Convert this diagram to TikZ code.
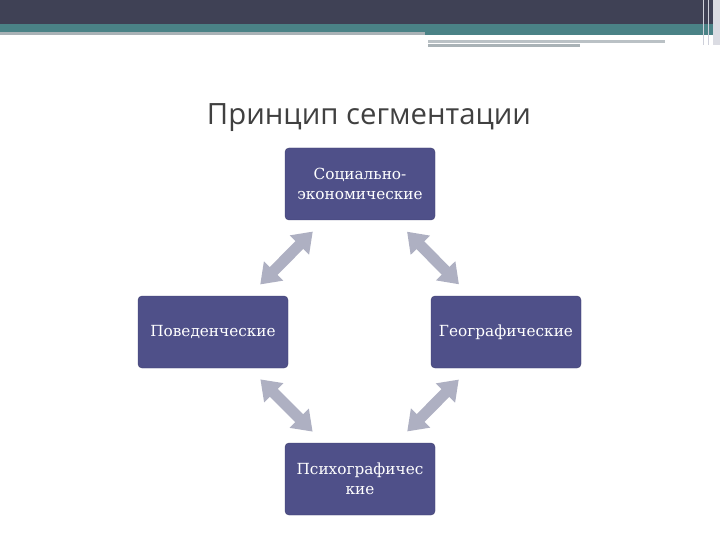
\documentclass[tikz,border=0pt]{standalone}
\usepackage{fontspec}
\setmainfont{DejaVu Serif}
\newfontfamily\titlefont{Open Sans}
\usetikzlibrary{arrows.meta}
\definecolor{Slate}{HTML}{3F4155}
\definecolor{Sea}{HTML}{4A8286}
\definecolor{Haze}{HTML}{A9B2B6}
\definecolor{Plum}{HTML}{4F5089}
\definecolor{PlumEdge}{HTML}{3E3F6E}
\definecolor{Mist}{HTML}{AEB0C2}
\definecolor{Ink}{HTML}{404040}

\begin{document}
\begin{tikzpicture}[x=1pt,y=-1pt,
    seg/.style={draw=PlumEdge,fill=Plum,rounded corners=4pt,minimum width=150pt,inner sep=2pt,
      minimum height=72pt,text width=145pt,align=center,text=white,font=\fontsize{15.3}{20}\selectfont},
    link/.style={Mist,line width=11pt,{Triangle[length=19pt,width=26pt]}-{Triangle[length=19pt,width=26pt]},
      shorten <=67pt,shorten >=67pt}]
    \useasboundingbox (0,0) rectangle (720,540);
    % header bands
    \fill[Slate] (0,0) rectangle (720,24);
    \fill[Sea] (0,24) rectangle (720,32);
    \fill[Haze] (0,32) rectangle (425,35);
    \fill[Sea] (425,32) rectangle (720,35);
    \fill[Haze!80] (428,40) rectangle (665,43);
    \fill[Haze] (428,44) rectangle (580,47);
    \fill[Mist!45] (713,0) rectangle (720,45);
    \draw[Mist!60,line width=1pt] (703,0)--(703,45) (708,0)--(708,45);
    \node[font=\titlefont\fontsize{29.3}{36}\selectfont,text=Ink] (title) at (369,118) {Принцип сегментации};
    \node[seg] (soc) at (360,184) {Социально-\\экономические};
    \node[seg] (beh) at (213,332) {Поведенческие};
    \node[seg] (geo) at (506,332) {Географические};
    \node[seg] (psy) at (360,479) {Психографичес\\кие};
    \foreach \u/\v in {soc/beh,soc/geo,beh/psy,geo/psy}\draw[link] (\u.center)--(\v.center);
  \end{tikzpicture}
\end{document}
